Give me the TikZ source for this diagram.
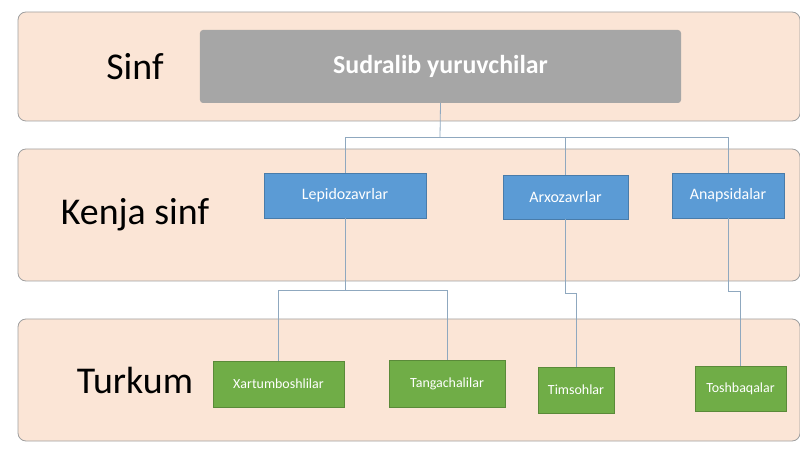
\documentclass[tikz,border=0pt]{standalone}
\usepackage{fontspec}
\setmainfont{Carlito}
\definecolor{band}{HTML}{FBE5D6}
\definecolor{bandline}{HTML}{A0A0A0}
\definecolor{gbox}{HTML}{A6A6A6}
\definecolor{bbox}{HTML}{5B9BD5}
\definecolor{grbox}{HTML}{70AD47}
\definecolor{conn}{HTML}{8FA8BF}
\begin{document}
\begin{tikzpicture}[x=1bp,y=-1bp,
  bandbox/.style={draw=bandline,fill=band,rounded corners=8bp,line width=0.8bp},
  lbl/.style={font=\fontsize{38}{40}\selectfont,anchor=center},
  bluebox/.style={fill=bbox,draw=bbox!80!black,line width=0.4bp,text=white,font=\fontsize{16}{18}\selectfont,inner sep=0pt},
  greenbox/.style={fill=grbox,draw=grbox!80!black,line width=0.4bp,text=white,font=\fontsize{14}{16}\selectfont,inner sep=0pt},
  cn/.style={draw=conn,line width=0.8bp}]
\useasboundingbox (0,0) rectangle (800,449);
\draw[bandbox] (18,12) rectangle (800,121);
\draw[bandbox] (18,149) rectangle (800,281);
\draw[bandbox] (18,319) rectangle (800,441);
\node[lbl] (l1) at (135,67) {Sinf};
\node[lbl] (l2) at (135,215) {Kenja sinf};
\node[lbl] (l3) at (135,380) {Turkum};
\node[fill=gbox,rounded corners=3bp,minimum width=481bp,minimum height=73bp,text=white,font=\bfseries\fontsize{26}{28}\selectfont] (root) at (440.5,66.5) {Sudralib yuruvchilar};
\node[bluebox,minimum width=162bp,minimum height=45bp] (lep) at (345,195.5) {Lepidozavrlar};
\node[bluebox,minimum width=125bp,minimum height=44bp] (arx) at (565.5,197) {Arxozavrlar};
\node[bluebox,minimum width=112bp,minimum height=45bp] (ana) at (728,195.5) {Anapsidalar};
\node[greenbox,minimum width=131bp,minimum height=46bp] (xar) at (278.5,384) {Xartumboshlilar};
\node[greenbox,minimum width=116bp,minimum height=47bp] (tan) at (447,383.5) {Tangachalilar};
\node[greenbox,minimum width=76bp,minimum height=46bp] (tim) at (576,390) {Timsohlar};
\node[greenbox,minimum width=91bp,minimum height=45bp] (tos) at (740.5,388.5) {Toshbaqalar};
\coordinate (j1) at (440,137);
\draw[cn] (root.south) -- (j1);
\draw[cn] (j1) -| (lep.north);
\draw[cn] (j1) -| (arx.north);
\draw[cn] (j1) -| (ana.north);
\draw[cn] (lep.south) -- (345,290) -| (xar.north);
\draw[cn] (345,290) -| (tan.north);
\draw[cn] (arx.south) -- (565.5,293) -| (tim.north);
\draw[cn] (ana.south) -- (728,291) -| (tos.north);
\end{tikzpicture}
\end{document}
